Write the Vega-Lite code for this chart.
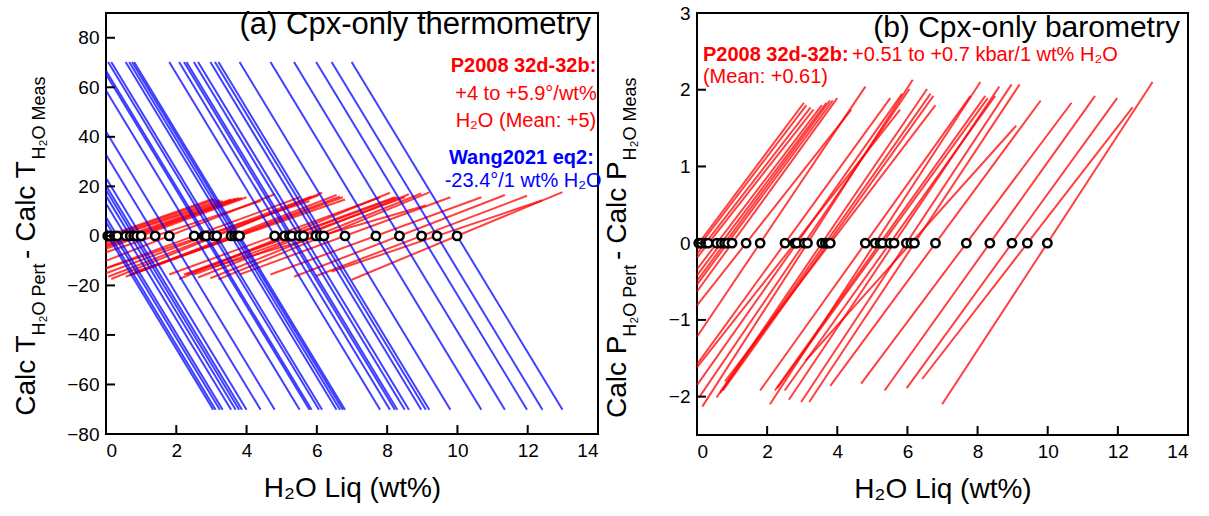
{
"$schema":"https://vega.github.io/schema/vega-lite/v6.json",
"background":"white",
"padding":{"left":11,"top":3,"right":5,"bottom":5},
"spacing":99,
"bounds":"flush",
"config":{
 "font":"Liberation Sans",
 "view":{"stroke":"black","strokeWidth":2},
 "axis":{"grid":false,"domain":false,"ticks":false,"labelPadding":7,"labelFontSize":19,"labelColor":"black","titleFontSize":28,"titleFontWeight":"normal","titleColor":"black","labelFont":"Liberation Sans","titleFont":"Liberation Sans"},
 "axisX":{"titlePadding":14},
 "text":{"font":"Liberation Sans"}
},
"datasets":{"s":[
{"h":0.05,"xs":0,"xe":3.05,"bs":1.17,"be":-70.2,"ts":-0.25,"te":15.0,"ps":-0.03,"pe":1.83},
{"h":0.12,"xs":0,"xe":3.12,"bs":2.81,"be":-70.2,"ts":-0.59,"te":14.7,"ps":-0.07,"pe":1.80},
{"h":0.24,"xs":0,"xe":3.24,"bs":5.62,"be":-70.2,"ts":-1.15,"te":14.4,"ps":-0.14,"pe":1.77},
{"h":0.32,"xs":0,"xe":3.32,"bs":7.49,"be":-70.2,"ts":-1.50,"te":14.1,"ps":-0.19,"pe":1.74},
{"h":0.56,"xs":0,"xe":3.56,"bs":13.10,"be":-70.2,"ts":-2.74,"te":14.7,"ps":-0.34,"pe":1.80},
{"h":0.69,"xs":0,"xe":3.69,"bs":16.15,"be":-70.2,"ts":-3.45,"te":15.0,"ps":-0.42,"pe":1.83},
{"h":0.79,"xs":0,"xe":3.79,"bs":18.49,"be":-70.2,"ts":-4.03,"te":15.3,"ps":-0.49,"pe":1.86},
{"h":0.87,"xs":0,"xe":3.87,"bs":20.36,"be":-70.2,"ts":-4.44,"te":15.3,"ps":-0.54,"pe":1.86},
{"h":1.00,"xs":0,"xe":4.00,"bs":23.40,"be":-70.2,"ts":-5.20,"te":15.6,"ps":-0.63,"pe":1.89},
{"h":1.40,"xs":0,"xe":4.40,"bs":32.76,"be":-70.2,"ts":-6.58,"te":14.1,"ps":-0.81,"pe":1.74},
{"h":1.80,"xs":0,"xe":4.80,"bs":42.12,"be":-70.2,"ts":-10.08,"te":16.8,"ps":-1.22,"pe":2.04},
{"h":2.51,"xs":0,"xe":5.51,"bs":58.73,"be":-70.2,"ts":-13.05,"te":15.6,"ps":-1.58,"pe":1.89},
{"h":2.79,"xs":0,"xe":5.79,"bs":65.29,"be":-70.2,"ts":-13.11,"te":14.1,"ps":-1.62,"pe":1.74},
{"h":2.85,"xs":0,"xe":5.85,"bs":66.69,"be":-70.2,"ts":-15.11,"te":15.9,"ps":-1.85,"pe":1.95},
{"h":3.06,"xs":0.06,"xe":6.06,"bs":70.2,"be":-70.2,"ts":-16.5,"te":16.5,"ps":-2.01,"pe":2.01},
{"h":3.15,"xs":0.15,"xe":6.15,"bs":70.2,"be":-70.2,"ts":-17.4,"te":17.4,"ps":-2.13,"pe":2.13},
{"h":3.56,"xs":0.56,"xe":6.56,"bs":70.2,"be":-70.2,"ts":-16.5,"te":16.5,"ps":-2.01,"pe":2.01},
{"h":3.66,"xs":0.66,"xe":6.66,"bs":70.2,"be":-70.2,"ts":-15.9,"te":15.9,"ps":-1.95,"pe":1.95},
{"h":3.74,"xs":0.74,"xe":6.74,"bs":70.2,"be":-70.2,"ts":-15.6,"te":15.6,"ps":-1.92,"pe":1.92},
{"h":3.80,"xs":0.80,"xe":6.80,"bs":70.2,"be":-70.2,"ts":-14.7,"te":14.7,"ps":-1.80,"pe":1.80},
{"h":4.80,"xs":1.80,"xe":7.80,"bs":70.2,"be":-70.2,"ts":-15.6,"te":15.6,"ps":-1.92,"pe":1.92},
{"h":5.08,"xs":2.08,"xe":8.08,"bs":70.2,"be":-70.2,"ts":-17.4,"te":17.4,"ps":-2.10,"pe":2.10},
{"h":5.22,"xs":2.22,"xe":8.22,"bs":70.2,"be":-70.2,"ts":-15.6,"te":15.6,"ps":-1.92,"pe":1.92},
{"h":5.29,"xs":2.29,"xe":8.29,"bs":70.2,"be":-70.2,"ts":-15.6,"te":15.6,"ps":-1.89,"pe":1.89},
{"h":5.50,"xs":2.50,"xe":8.50,"bs":70.2,"be":-70.2,"ts":-15.6,"te":15.6,"ps":-1.92,"pe":1.92},
{"h":5.62,"xs":2.62,"xe":8.62,"bs":70.2,"be":-70.2,"ts":-16.8,"te":16.8,"ps":-2.04,"pe":2.04},
{"h":5.97,"xs":2.97,"xe":8.97,"bs":70.2,"be":-70.2,"ts":-17.1,"te":17.1,"ps":-2.07,"pe":2.07},
{"h":6.10,"xs":3.10,"xe":9.10,"bs":70.2,"be":-70.2,"ts":-12.3,"te":12.3,"ps":-1.53,"pe":1.53},
{"h":6.20,"xs":3.20,"xe":9.20,"bs":70.2,"be":-70.2,"ts":-17.55,"te":17.55,"ps":-2.07,"pe":2.07},
{"h":6.80,"xs":3.80,"xe":9.80,"bs":70.2,"be":-70.2,"ts":-15.6,"te":15.6,"ps":-1.86,"pe":1.86},
{"h":7.68,"xs":4.68,"xe":10.68,"bs":70.2,"be":-70.2,"ts":-15.6,"te":15.6,"ps":-1.83,"pe":1.83},
{"h":8.35,"xs":5.35,"xe":11.35,"bs":70.2,"be":-70.2,"ts":-16.5,"te":16.5,"ps":-1.92,"pe":1.92},
{"h":8.98,"xs":5.98,"xe":11.98,"bs":70.2,"be":-70.2,"ts":-16.2,"te":16.2,"ps":-1.89,"pe":1.89},
{"h":9.42,"xs":6.42,"xe":12.42,"bs":70.2,"be":-70.2,"ts":-14.4,"te":14.4,"ps":-1.77,"pe":1.77},
{"h":9.99,"xs":6.99,"xe":12.99,"bs":70.2,"be":-70.2,"ts":-17.7,"te":17.7,"ps":-2.10,"pe":2.10}
],
"xt":[{"v":2},{"v":4},{"v":6},{"v":8},{"v":10},{"v":12}],
"yt":[{"v":-60},{"v":-40},{"v":-20},{"v":0},{"v":20},{"v":40},{"v":60},{"v":80}],
"pt":[{"v":-2},{"v":-1},{"v":0},{"v":1},{"v":2}]
},
"hconcat":[
{
 "width":492,"height":421,
 "layer":[
  {"data":{"name":"s"},"mark":{"type":"rule","color":"#ff0000","strokeWidth":2,"opacity":0.75},
   "encoding":{
    "x":{"field":"xs","type":"quantitative","scale":{"domain":[0,14],"nice":false},"title":"H₂O Liq (wt%)","axis":{"values":[0,2,4,6,8,10,12,14]}},
    "y":{"field":"ts","type":"quantitative","scale":{"domain":[-80,90],"nice":false},"title":null,"axis":{"values":[-80,-60,-40,-20,0,20,40,60,80]}},
    "x2":{"field":"xe"},"y2":{"field":"te"}}},
  {"data":{"name":"s"},"mark":{"type":"rule","color":"#0000ff","strokeWidth":2,"opacity":0.75},
   "encoding":{
    "x":{"field":"xs","type":"quantitative","scale":{"domain":[0,14],"nice":false},"title":"H₂O Liq (wt%)"},
    "y":{"field":"bs","type":"quantitative","scale":{"domain":[-80,90],"nice":false},"title":null},
    "x2":{"field":"xe"},"y2":{"field":"be"}}},
  {"data":{"name":"s"},"mark":{"type":"point","shape":"circle","filled":true,"fill":"white","stroke":"black","strokeWidth":2.5,"size":70,"opacity":1},
   "encoding":{
    "x":{"field":"h","type":"quantitative","scale":{"domain":[0,14],"nice":false},"title":"H₂O Liq (wt%)"},
    "y":{"datum":0,"type":"quantitative","scale":{"domain":[-80,90],"nice":false},"title":null}}},
  {"data":{"name":"xt"},"mark":{"type":"rule","color":"black","strokeWidth":2},
   "encoding":{
    "x":{"field":"v","type":"quantitative","scale":{"domain":[0,14],"nice":false},"title":"H₂O Liq (wt%)"},
    "y":{"datum":-80,"type":"quantitative","scale":{"domain":[-80,90],"nice":false},"title":null},
    "y2":{"datum":-76.4}}},
  {"data":{"name":"yt"},"mark":{"type":"rule","color":"black","strokeWidth":2},
   "encoding":{
    "y":{"field":"v","type":"quantitative","scale":{"domain":[-80,90],"nice":false},"title":null},
    "x":{"datum":0,"type":"quantitative","scale":{"domain":[0,14],"nice":false},"title":"H₂O Liq (wt%)"},
    "x2":{"datum":0.256}}},
  {"data":{"values":[{"x":13.8,"y":85.2,"t":"(a) Cpx-only thermometry"}]},
   "mark":{"type":"text","align":"right","baseline":"middle","fontSize":31,"color":"black"},
   "encoding":{"x":{"field":"x","type":"quantitative","scale":{"domain":[0,14],"nice":false},"title":"H₂O Liq (wt%)"},"y":{"field":"y","type":"quantitative","scale":{"domain":[-80,90],"nice":false},"title":null},"text":{"field":"t"}}},
  {"data":{"values":[{"x":11.88,"y":68.6,"t":"P2008 32d-32b:"}]},
   "mark":{"type":"text","align":"center","baseline":"middle","fontSize":20,"fontWeight":"bold","color":"#ff0000"},
   "encoding":{"x":{"field":"x","type":"quantitative","scale":{"domain":[0,14],"nice":false},"title":"H₂O Liq (wt%)"},"y":{"field":"y","type":"quantitative","scale":{"domain":[-80,90],"nice":false},"title":null},"text":{"field":"t"}}},
  {"data":{"values":[{"x":11.95,"y":57.3,"t":"+4 to +5.9°/wt%"},{"x":11.95,"y":46.4,"t":"H₂O (Mean: +5)"}]},
   "mark":{"type":"text","align":"center","baseline":"middle","fontSize":20,"color":"#ff0000"},
   "encoding":{"x":{"field":"x","type":"quantitative","scale":{"domain":[0,14],"nice":false},"title":"H₂O Liq (wt%)"},"y":{"field":"y","type":"quantitative","scale":{"domain":[-80,90],"nice":false},"title":null},"text":{"field":"t"}}},
  {"data":{"values":[{"x":11.82,"y":31.5,"t":"Wang2021 eq2:"}]},
   "mark":{"type":"text","align":"center","baseline":"middle","fontSize":20,"fontWeight":"bold","color":"#0000ff"},
   "encoding":{"x":{"field":"x","type":"quantitative","scale":{"domain":[0,14],"nice":false},"title":"H₂O Liq (wt%)"},"y":{"field":"y","type":"quantitative","scale":{"domain":[-80,90],"nice":false},"title":null},"text":{"field":"t"}}},
  {"data":{"values":[{"x":11.87,"y":22.2,"t":"-23.4°/1 wt% H₂O"}]},
   "mark":{"type":"text","align":"center","baseline":"middle","fontSize":20,"color":"#0000ff"},
   "encoding":{"x":{"field":"x","type":"quantitative","scale":{"domain":[0,14],"nice":false},"title":"H₂O Liq (wt%)"},"y":{"field":"y","type":"quantitative","scale":{"domain":[-80,90],"nice":false},"title":null},"text":{"field":"t"}}},
  {"data":{"values":[{"x":-2.26,"y":-56.4,"t":"Calc T"},{"x":-2.26,"y":-7.5,"t":"-"},{"x":-2.26,"y":13.9,"t":"Calc T"}]},
   "mark":{"type":"text","align":"center","baseline":"middle","fontSize":28,"angle":270,"color":"black"},
   "encoding":{"x":{"field":"x","type":"quantitative","scale":{"domain":[0,14],"nice":false},"title":"H₂O Liq (wt%)"},"y":{"field":"y","type":"quantitative","scale":{"domain":[-80,90],"nice":false},"title":null},"text":{"field":"t"}}},
  {"data":{"values":[{"x":-1.89,"y":-25.7,"t":"H₂O Pert"},{"x":-1.89,"y":47.6,"t":"H₂O  Meas"}]},
   "mark":{"type":"text","align":"center","baseline":"middle","fontSize":18,"angle":270,"color":"black"},
   "encoding":{"x":{"field":"x","type":"quantitative","scale":{"domain":[0,14],"nice":false},"title":"H₂O Liq (wt%)"},"y":{"field":"y","type":"quantitative","scale":{"domain":[-80,90],"nice":false},"title":null},"text":{"field":"t"}}}
 ]
},
{
 "width":491,"height":422,
 "layer":[
  {"data":{"name":"s"},"mark":{"type":"rule","color":"#ff0000","strokeWidth":2,"opacity":0.75},
   "encoding":{
    "x":{"field":"xs","type":"quantitative","scale":{"domain":[0,14],"nice":false},"title":"H₂O Liq (wt%)","axis":{"values":[0,2,4,6,8,10,12,14]}},
    "y":{"field":"ps","type":"quantitative","scale":{"domain":[-2.5,3],"nice":false},"title":null,"axis":{"values":[-2,-1,0,1,2,3],"format":"d"}},
    "x2":{"field":"xe"},"y2":{"field":"pe"}}},
  {"data":{"name":"s"},"mark":{"type":"point","shape":"circle","filled":true,"fill":"white","stroke":"black","strokeWidth":2.5,"size":70,"opacity":1},
   "encoding":{
    "x":{"field":"h","type":"quantitative","scale":{"domain":[0,14],"nice":false},"title":"H₂O Liq (wt%)"},
    "y":{"datum":0,"type":"quantitative","scale":{"domain":[-2.5,3],"nice":false},"title":null}}},
  {"data":{"name":"xt"},"mark":{"type":"rule","color":"black","strokeWidth":2},
   "encoding":{
    "x":{"field":"v","type":"quantitative","scale":{"domain":[0,14],"nice":false},"title":"H₂O Liq (wt%)"},
    "y":{"datum":-2.5,"type":"quantitative","scale":{"domain":[-2.5,3],"nice":false},"title":null},
    "y2":{"datum":-2.383}}},
  {"data":{"name":"pt"},"mark":{"type":"rule","color":"black","strokeWidth":2},
   "encoding":{
    "y":{"field":"v","type":"quantitative","scale":{"domain":[-2.5,3],"nice":false},"title":null},
    "x":{"datum":0,"type":"quantitative","scale":{"domain":[0,14],"nice":false},"title":"H₂O Liq (wt%)"},
    "x2":{"datum":0.257}}},
  {"data":{"values":[{"x":13.77,"y":2.81,"t":"(b) Cpx-only barometry"}]},
   "mark":{"type":"text","align":"right","baseline":"middle","fontSize":30,"color":"black"},
   "encoding":{"x":{"field":"x","type":"quantitative","scale":{"domain":[0,14],"nice":false},"title":"H₂O Liq (wt%)"},"y":{"field":"y","type":"quantitative","scale":{"domain":[-2.5,3],"nice":false},"title":null},"text":{"field":"t"}}},
  {"data":{"values":[{"x":0.17,"y":2.45,"t":"P2008 32d-32b:"}]},
   "mark":{"type":"text","align":"left","baseline":"middle","fontSize":20,"fontWeight":"bold","color":"#ff0000"},
   "encoding":{"x":{"field":"x","type":"quantitative","scale":{"domain":[0,14],"nice":false},"title":"H₂O Liq (wt%)"},"y":{"field":"y","type":"quantitative","scale":{"domain":[-2.5,3],"nice":false},"title":null},"text":{"field":"t"}}},
  {"data":{"values":[{"x":4.42,"y":2.45,"t":"+0.51 to +0.7 kbar/1 wt% H₂O"},{"x":0.17,"y":2.16,"t":"(Mean: +0.61)"}]},
   "mark":{"type":"text","align":"left","baseline":"middle","fontSize":20,"color":"#ff0000"},
   "encoding":{"x":{"field":"x","type":"quantitative","scale":{"domain":[0,14],"nice":false},"title":"H₂O Liq (wt%)"},"y":{"field":"y","type":"quantitative","scale":{"domain":[-2.5,3],"nice":false},"title":null},"text":{"field":"t"}}},
  {"data":{"values":[{"x":-2.25,"y":-1.74,"t":"Calc P"},{"x":-2.25,"y":-0.16,"t":"-"},{"x":-2.25,"y":0.53,"t":"Calc P"}]},
   "mark":{"type":"text","align":"center","baseline":"middle","fontSize":28,"angle":270,"color":"black"},
   "encoding":{"x":{"field":"x","type":"quantitative","scale":{"domain":[0,14],"nice":false},"title":"H₂O Liq (wt%)"},"y":{"field":"y","type":"quantitative","scale":{"domain":[-2.5,3],"nice":false},"title":null},"text":{"field":"t"}}},
  {"data":{"values":[{"x":-1.88,"y":-0.75,"t":"H₂O Pert"},{"x":-1.88,"y":1.62,"t":"H₂O  Meas"}]},
   "mark":{"type":"text","align":"center","baseline":"middle","fontSize":18,"angle":270,"color":"black"},
   "encoding":{"x":{"field":"x","type":"quantitative","scale":{"domain":[0,14],"nice":false},"title":"H₂O Liq (wt%)"},"y":{"field":"y","type":"quantitative","scale":{"domain":[-2.5,3],"nice":false},"title":null},"text":{"field":"t"}}}
 ]
}
]
}
